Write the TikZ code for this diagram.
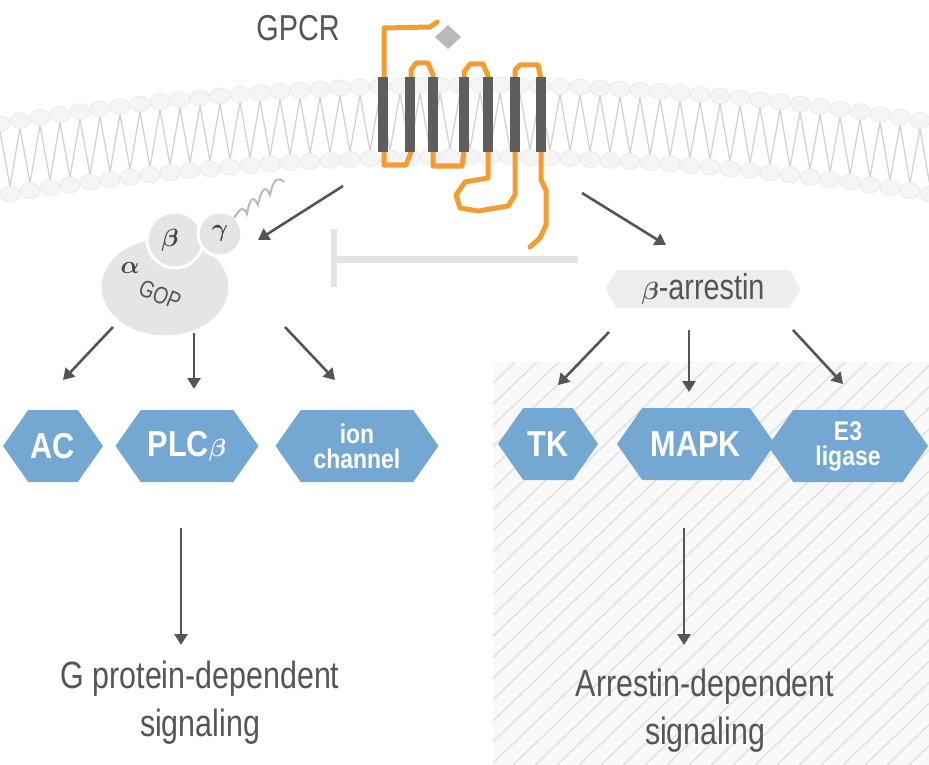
\documentclass[tikz,border=0pt]{standalone}
\usepackage{amsmath}
\usepackage{fontspec}
\setmainfont{Liberation Sans}[FakeStretch=0.8]
\newfontfamily\hexfont{Liberation Sans}[FakeStretch=0.85]
\usetikzlibrary{shapes.symbols,arrows.meta}
\definecolor{dk}{HTML}{555555}
\definecolor{org}{HTML}{F39C32}
\definecolor{hb}{HTML}{75A7D3}
\begin{document}
\begin{tikzpicture}[x=1pt,y=-1pt,
  arr/.style={draw=dk,line width=2.6pt,-{Triangle[length=11pt,width=13pt]}},
  hex/.style={signal,signal to=east and west,signal pointer angle=110,fill=hb,text=white,
     font=\hexfont\bfseries\fontsize{36}{34}\selectfont,align=center,minimum height=72pt,inner sep=2pt,inner xsep=0pt},
  lbl/.style={text=dk,font=\fontsize{38}{48}\selectfont,align=center},
  head/.style={fill=gray!8,draw=gray!18,line width=0.6pt}]
\useasboundingbox (0,0) rectangle (929,765);
% hatched region
\fill[gray!5] (493,362) rectangle (929,765);
\begin{scope}
\clip (493,362) rectangle (929,765);
\foreach \i in {0,...,40}{\draw[gray!22,line width=1.6pt] (493+\i*22-420,765) -- (493+\i*22,362);}
\end{scope}
% membrane
\foreach \i in {0,...,47}{
  \pgfmathsetmacro{\xa}{\i*20}
  \pgfmathsetmacro{\xb}{\i*20+10}
  \pgfmathsetmacro{\xc}{\i*20+20}
  \pgfmathsetmacro{\ya}{85+1.75*((\xa-470)/100)^2}
  \pgfmathsetmacro{\yb}{85+1.75*((\xb-470)/100)^2+72}
  \pgfmathsetmacro{\yc}{85+1.75*((\xc-470)/100)^2}
  \draw[gray!35,line width=1.3pt] (\xa,\ya+8) -- (\xb,\yb-8) -- (\xc,\yc+8);
}
\foreach \i in {0,...,47}{
  \pgfmathsetmacro{\xa}{\i*20}
  \pgfmathsetmacro{\ya}{85+1.75*((\xa-470)/100)^2}
  \pgfmathsetmacro{\xb}{\i*20+10}
  \pgfmathsetmacro{\yb}{85+1.75*((\xb-470)/100)^2+72}
  \fill[head] (\xa,\ya) ellipse (10pt and 8pt);
  \fill[head] (\xb,\yb) ellipse (10pt and 8pt);
}
% GPCR loops
\draw[org,line width=5pt,line join=round,line cap=round]
 (437,22) -- (430,27) -- (384,28) -- (384,165) -- (406,165) -- (411,152)
 -- (411,70) -- (416,63) -- (428,63) -- (433,75) -- (433,166) -- (462,166) -- (464,152)
 -- (464,72) -- (470,64) -- (483,64) -- (488,76) -- (488,178) -- (465,182) -- (456,195)
 -- (460,208) -- (478,211) -- (508,206) -- (515,195) -- (515,70) -- (520,65) -- (538,65) -- (541,80)
 -- (541,180) -- (546,190) -- (546,225) -- (540,238) -- (530,247);
\foreach \x in {383,410,433,464,488,515,541}{\fill[dk!95] (\x-5,77) rectangle (\x+5,152);}
\fill[gray!55] (448,25) -- (461,37) -- (448,49) -- (435,37) -- cycle;
\node[lbl,font=\fontsize{36}{40}\selectfont] (gpcr) at (298,28) {GPCR};
% G protein
\fill[gray!20,draw=white,line width=3pt] (165,287) ellipse (65pt and 50pt);
\fill[gray!20,draw=white,line width=3pt] (175,240) circle (28pt);
\fill[gray!20,draw=white,line width=3pt] (220,234) circle (22pt);
\draw[gray!55,line width=2pt] (234,218) .. controls (242,205) and (244,208) .. (247,214) .. controls (250,196) and (254,196) .. (258,205) .. controls (262,186) and (266,186) .. (270,195) .. controls (274,177) and (278,177) .. (284,182);
\node[text=dk!80!black,font=\fontsize{26}{26}\selectfont] (a) at (130,268) {$\boldsymbol\alpha$};
\node[text=dk!80!black,font=\fontsize{26}{26}\selectfont] (b) at (170,240) {$\boldsymbol\beta$};
\node[text=dk!80!black,font=\fontsize{26}{26}\selectfont] (g) at (220,233) {$\boldsymbol\gamma$};
\node[text=dk,rotate=-22,font=\fontsize{24}{24}\selectfont] (gop) at (160,295) {GOP};
\coordinate (gp) at (258,240);
\coordinate (r1) at (343,186);
\coordinate (r2) at (582,193);
\draw[arr] (r1) -- (gp);
% inhibition
\coordinate (i1) at (578,259);
\coordinate (i2) at (333,259);
\draw[gray!22,line width=7pt] (i1) -- (i2);
\draw[gray!22,line width=6pt] (334,229) -- (334,287);
% beta-arrestin
\node[signal,signal to=east and west,signal pointer angle=120,fill=gray!14,minimum width=195pt,minimum height=38pt,inner sep=0pt,text=dk,font=\fontsize{36}{36}\selectfont] (barr) at (703,289) {$\boldsymbol\beta$-arrestin};
\draw[arr] (r2) -- (666,245);
% hexagons
\node[hex,minimum width=100pt] (ac) at (53,446) {AC};
\node[hex,minimum width=143pt] (plc) at (187,446) {PLC$\boldsymbol\beta$};
\node[hex,minimum width=163pt,font=\hexfont\bfseries\fontsize{27}{25}\selectfont] (ion) at (357,446) {ion\\channel};
\node[hex,minimum width=100pt] (tk) at (548,444) {TK};
\node[hex,minimum width=158pt] (mapk) at (696,444) {MAPK};
\node[hex,minimum width=160pt,font=\hexfont\bfseries\fontsize{27}{25}\selectfont] (e3) at (848,446) {E3\\ligase};
% arrows
\draw[arr] (113,327) -- (63,380);
\draw[arr] (194,333) -- (194,389);
\draw[arr] (285,327) -- (335,380);
\draw[arr] (609,332) -- (558,385);
\draw[arr] (689,330) -- (689,392);
\draw[arr] (793,330) -- (843,384);
\node[lbl] (gsig) at (200,703) {G protein-dependent\\signaling};
\node[lbl] (asig) at (705,711) {Arrestin-dependent\\signaling};
\draw[arr] (181,528) -- (181,645);
\draw[arr] (684,528) -- (684,645);
\end{tikzpicture}
\end{document}
